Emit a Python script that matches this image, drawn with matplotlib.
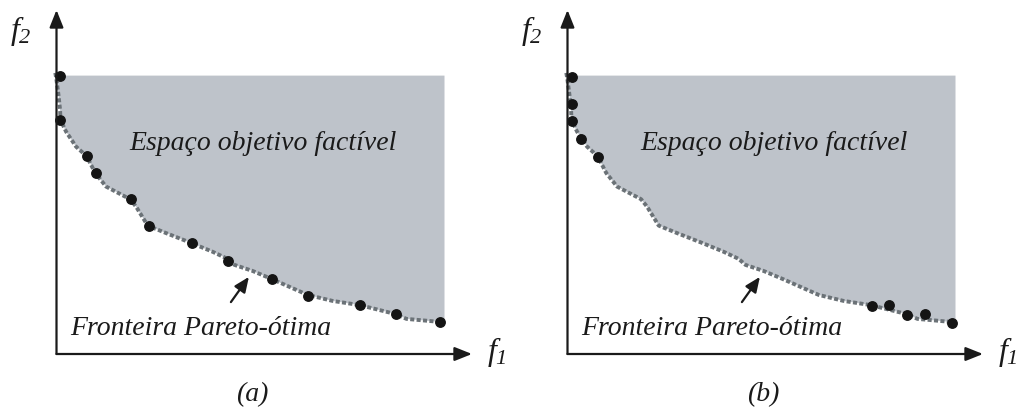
import matplotlib
matplotlib.use("Agg")
import matplotlib.pyplot as plt
from matplotlib.patches import Polygon

plt.rcParams["font.family"] = ["Liberation Serif", "DejaVu Serif"]
plt.rcParams["mathtext.fontset"] = "custom"
plt.rcParams["mathtext.it"] = "Liberation Serif:italic"
plt.rcParams["mathtext.rm"] = "Liberation Serif:italic"

# Pareto front (f1, f2) shared by both panels
front_f1 = [-0.03, 0.00, 0.05, 0.09, 0.10, 0.24, 0.49, 0.75, 0.97, 1.24, 1.84, 1.99,
            2.28, 2.74, 3.39, 3.90, 4.28, 4.45, 4.90, 5.38, 6.28, 6.90, 7.58, 8.48,
            8.75, 9.58]
front_f2 = [9.37, 9.13, 8.63, 8.13, 7.80, 7.41, 6.91, 6.60, 6.03, 5.58, 5.16, 4.91,
            4.28, 4.03, 3.69, 3.41, 3.17, 2.97, 2.77, 2.50, 1.97, 1.77, 1.63, 1.33,
            1.17, 1.07]

# Bounds of the feasible objective space
space_top = 9.28
space_right = 9.70

# Solutions found in each case
sol_a_f1 = [0.075, 0.075, 0.75, 0.975, 1.85, 2.30, 3.375, 4.275, 5.375, 6.275, 7.575, 8.475, 9.575]
sol_a_f2 = [9.27, 7.80, 6.60, 6.03, 5.17, 4.27, 3.70, 3.10, 2.50, 1.93, 1.63, 1.33, 1.07]

sol_b_f1 = [0.10, 0.10, 0.10, 0.325, 0.75, 7.60, 8.03, 8.48, 8.93, 9.60]
sol_b_f2 = [9.23, 8.33, 7.77, 7.17, 6.57, 1.60, 1.63, 1.30, 1.33, 1.03]

panel_labels = ["(a)", "(b)"]
region_text = "Espaço objetivo factível"
front_text = "Fronteira Pareto-ótima"

W, H = 1022, 412
fig = plt.figure(figsize=(W / 100, H / 100), dpi=100)

# axis origin in pixels within each half, and pixel size of one unit
ox, oy = 56.5, 354.0
sx, sy = 40.0, 30.0
half = 511.0
xlim = (-ox / sx, (half - ox) / sx)
ylim = ((oy - H) / sy, oy / sy)

fill_color = "#bec3ca"
front_color = "#6b7277"
ink = "#1a1a1a"


def draw_panel(ax, sol_f1, sol_f2, label):
    ax.set_xlim(*xlim)
    ax.set_ylim(*ylim)
    ax.axis("off")

    # feasible region bounded by the front
    verts = [(0.0, space_top)]
    verts += [(x, y) for x, y in zip(front_f1[1:], front_f2[1:])]
    verts += [(space_right, front_f2[-1]), (space_right, space_top)]
    ax.add_patch(Polygon(verts, closed=True, facecolor=fill_color,
                         edgecolor="none", zorder=1))

    # Pareto front
    ax.plot(front_f1, front_f2, color=front_color, lw=2.8,
            linestyle=(0, (1.05, 0.6)), dash_capstyle="butt",
            solid_joinstyle="miter", zorder=2)

    # solutions
    ax.plot(sol_f1, sol_f2, "o", color="#141414", ms=6.8, zorder=4)

    # axes with arrow heads
    arrow = dict(arrowstyle="-|>,head_length=0.75,head_width=0.3",
                 color=ink, lw=1.6, mutation_scale=14,
                 shrinkA=0, shrinkB=0)
    ax.annotate("", xy=((472 - ox) / sx, 0), xytext=(0, 0),
                arrowprops=arrow, zorder=5)
    ax.annotate("", xy=(0, (oy - 10) / sy), xytext=(0, 0),
                arrowprops=arrow, zorder=5)

    ax.text((21 - ox) / sx, (oy - 31) / sy, r"$f_2$", fontsize=23,
            ha="center", va="center", color=ink)
    ax.text((497 - ox) / sx, (oy - 352) / sy, r"$f_1$", fontsize=23,
            ha="center", va="center", color=ink)

    ax.text((263.5 - ox) / sx, (oy - 150) / sy, region_text, fontsize=20,
            style="italic", ha="center", va="baseline", color=ink)
    ax.text((201 - ox) / sx, (oy - 335) / sy, front_text, fontsize=20,
            style="italic", ha="center", va="baseline", color=ink)

    # pointer to the front
    ax.annotate("", xy=(4.81, 2.57), xytext=(4.36, 1.73),
                arrowprops=dict(arrowstyle="-|>,head_length=0.65,head_width=0.28",
                                color=ink, lw=1.6, mutation_scale=14,
                                shrinkA=0, shrinkB=0), zorder=5)

    ax.text((252 - ox) / sx, (oy - 395) / sy, label, fontsize=20,
            style="italic", ha="center", va="center", color=ink)


ax_a = fig.add_axes([0, 0, half / W, 1])
draw_panel(ax_a, sol_a_f1, sol_a_f2, panel_labels[0])
ax_b = fig.add_axes([half / W, 0, half / W, 1])
draw_panel(ax_b, sol_b_f1, sol_b_f2, panel_labels[1])

fig.savefig("out.png", dpi=100)
